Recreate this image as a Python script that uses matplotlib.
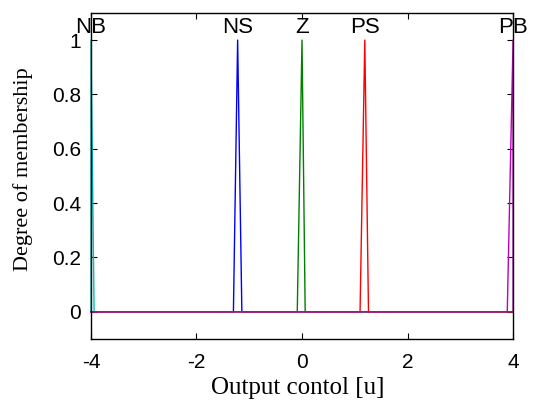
import numpy as np
import matplotlib.pyplot as plt

# Output membership functions (triangle vertices)
x_min, x_max = -4.0, 4.0
names = ['NB', 'NS', 'Z', 'PS', 'PB']
left = [-4.0, -1.30, -0.09, 1.10, 3.89]
peak = [-4.0, -1.22, 0.0, 1.19, 4.0]
right = [-3.94, -1.14, 0.06, 1.26, 4.0]
colors = ['c', 'b', (0, 0.5, 0), 'r', 'm']

xticks = [-4, -2, 0, 2, 4]
yticks = [0, 0.2, 0.4, 0.6, 0.8, 1]
ytick_labels = ['0', '0.2', '0.4', '0.6', '0.8', '1']

fig = plt.figure(figsize=(5.35, 4.03), dpi=100)
ax = fig.add_axes([0.170, 0.159, 0.789, 0.809])

for n, a, b, c, col in zip(names, left, peak, right, colors):
    xs = [x_min, a, b, c, x_max]
    ys = [0, 0, 1, 0, 0]
    ax.plot(xs, ys, color=col, linewidth=1.0, clip_on=False)
    ax.text(b, 1.027, n, ha='center', va='baseline', fontsize=16,
            family='Liberation Sans')

ax.set_xlim(x_min, x_max)
ax.set_ylim(-0.1, 1.1)
ax.set_xticks(xticks)
ax.set_xticklabels([str(t) for t in xticks], family='Liberation Sans', fontsize=15)
ax.set_yticks(yticks)
ax.set_yticklabels(ytick_labels, family='Liberation Sans', fontsize=15)
ax.tick_params(direction='in', top=True, right=True, length=4, width=0.8)
ax.tick_params(axis='x', pad=10)
ax.tick_params(axis='y', pad=7)
for s in ax.spines.values():
    s.set_linewidth(1.0)

ax.set_xlabel('Output contol [u]', family='Liberation Serif', fontsize=18)
ax.set_ylabel('Degree of membership', family='Liberation Serif', fontsize=16)
ax.xaxis.set_label_coords(0.489, -0.118)
ax.yaxis.set_label_coords(-0.137, 0.521)

fig.savefig('out.png', dpi=100)
